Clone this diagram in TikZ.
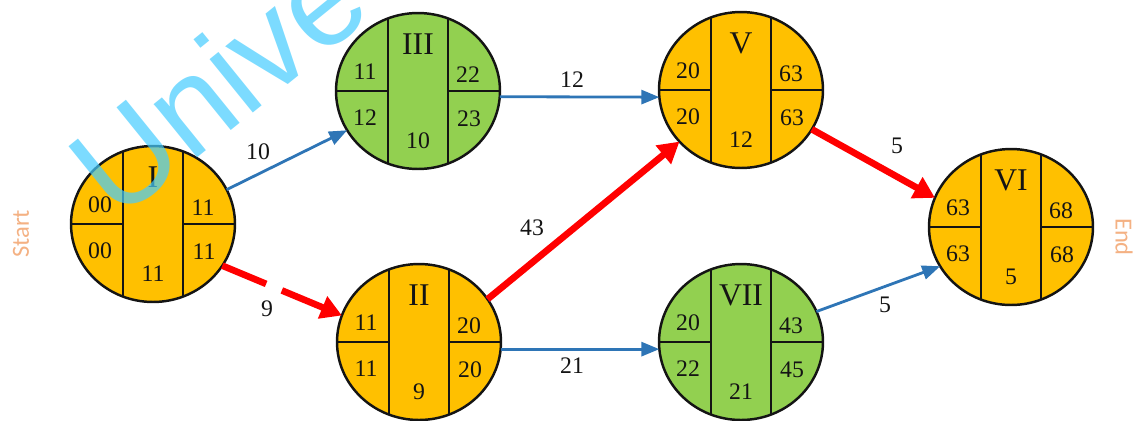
\documentclass[tikz,border=0pt]{standalone}
\usepackage{fontspec}
\setmainfont{Liberation Serif}
\newfontfamily\tagfont{Carlito}
\newfontfamily\markfont{Liberation Sans}
\usetikzlibrary{arrows.meta,calc,shapes.geometric}
\definecolor{NetInk}{HTML}{141414}
\definecolor{NetGold}{HTML}{FFC000}
\definecolor{NetGreen}{HTML}{92D050}
\definecolor{NetBlue}{HTML}{2E75B6}
\definecolor{NetRed}{HTML}{FF0000}
\definecolor{NetTag}{HTML}{F4B183}
\definecolor{NetMark}{HTML}{45CCFF}
\tikzset{
  every node/.style={text=NetInk},
  event/.style={ellipse, draw=NetInk, line width=1.4pt, minimum width=3.28cm, minimum height=3.12cm, inner sep=0pt, outer sep=0pt},
  divider/.style={draw=NetInk, line width=1.2pt},
  numeral/.style={font=\fontsize{18}{20}\selectfont},
  figure/.style={font=\fontsize{13.5}{15}\selectfont},
  weight/.style={font=\fontsize{13.5}{15}\selectfont},
  flow/.style={-{Triangle[length=3.6mm,width=2.8mm]}, draw=NetBlue, line width=1.6pt},
  critical/.style={-{Triangle[length=4.2mm,width=4.6mm]}, draw=NetRed, line width=3.8pt},
  tag/.style={text=NetTag, font=\tagfont\fontsize{14}{16}\selectfont},
  watermark/.style={text=NetMark, opacity=0.7, font=\markfont\fontsize{74}{76}\selectfont},
}
% event circle: name, position, fill, number, early start, late start, early finish, late finish, duration
\newcommand{\eventnode}[9]{%
  \node[event, fill=#3] (#1) at #2 {};
  \draw[divider] ($(#1)+(-30,-72.6)$) -- ($(#1)+(-30,72.6)$);
  \draw[divider] ($(#1)+(30,-72.6)$) -- ($(#1)+(30,72.6)$);
  \draw[divider] (#1.west) -- ++(52,0);
  \draw[divider] (#1.east) -- ++(-52,0);
  \node[numeral] (#1-id) at ($(#1)+(0,-47)$) {#4};
  \node[figure] (#1-lt) at ($(#1)+(-53,-19)$) {#5};
  \node[figure] (#1-lb) at ($(#1)+(-53,27)$) {#6};
  \node[figure] (#1-rt) at ($(#1)+(50,-16)$) {#7};
  \node[figure] (#1-rb) at ($(#1)+(51,28)$) {#8};
  \node[figure] (#1-du) at ($(#1)+(0,50)$) {#9};
}

\begin{document}
\begin{tikzpicture}[x=0.02cm,y=-0.02cm]
  \useasboundingbox (0,0) rectangle (1146,420);
  \clip (0,0) rectangle (1146,420);
  % Events
  \eventnode{I}{(153,224)}{NetGold}{I}{00}{00}{11}{11}{11}
  \eventnode{III}{(418,91)}{NetGreen}{III}{11}{12}{22}{23}{10}
  \eventnode{II}{(419,342)}{NetGold}{II}{11}{11}{20}{20}{9}
  \eventnode{V}{(741,90)}{NetGold}{V}{20}{20}{63}{63}{12}
  \eventnode{VII}{(741,342)}{NetGreen}{VII}{20}{22}{43}{45}{21}
  \eventnode{VI}{(1011,227)}{NetGold}{VI}{63}{63}{68}{68}{5}
  % Activities
  \draw[flow] (I.25.6) -- (III.209.5);
  \draw[critical, dash pattern=on 0.95cm off 0.34cm] (I.-31) -- (II.161);
  \draw[flow] (III.-4) -- (V.185);
  \draw[critical] (II.32) -- (V.220);
  \draw[flow] (II.-5) -- (VII.185);
  \draw[critical] (V.-29) -- (VI.159);
  \draw[flow] (VII.22) -- (VI.209);
  % Activity durations
  \node[weight] (w-i-iii) at (258,152) {10};
  \node[weight] (w-i-ii) at (267,309) {9};
  \node[weight] (w-iii-v) at (572,80) {12};
  \node[weight] (w-ii-v) at (532,228) {43};
  \node[weight] (w-ii-vii) at (572,366) {21};
  \node[weight] (w-v-vi) at (897,146) {5};
  \node[weight] (w-vii-vi) at (885,305) {5};
  % Start and end tags
  \node[tag, rotate=90] (start) at (21,234) {Start};
  \node[tag, rotate=-90] (end) at (1124,237) {End};
  % Watermark
  \node[watermark, anchor=base west, rotate=39, inner sep=0pt] (mark) at (117,223) {Unive};
\end{tikzpicture}
\end{document}
